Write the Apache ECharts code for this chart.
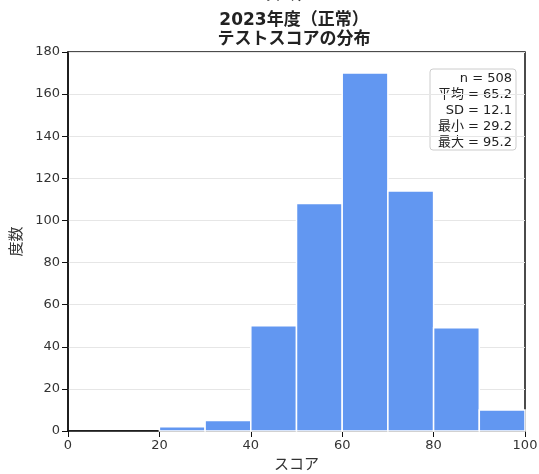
<!DOCTYPE html>
<html><head><meta charset="utf-8">
<script src="https://cdn.jsdelivr.net/npm/echarts@6/dist/echarts.min.js"></script>
<style>html,body{margin:0;padding:0;background:#fff}#c{width:539px;height:474px}</style>
</head><body><div id="c"></div>
<script>
const binStarts = [20, 30, 40, 50, 60, 70, 80, 90];
const binWidth = 10;
const counts = [2, 5, 50, 108, 170, 114, 49, 10];
const statsLines = ['n = 508', '平均 = 65.2', 'SD = 12.1', '最小 = 29.2', '最大 = 95.2'];
const titleLines = ['2023年度（正常）', 'テストスコアの分布'];

const FONT = '"DejaVu Sans", "Noto Sans CJK JP", sans-serif';
const chart = echarts.init(document.getElementById('c'));
const data = binStarts.map((s, i) => [s, s + binWidth, counts[i]]);
chart.setOption({
  animation: false,
  textStyle: { fontFamily: FONT },
  title: {
    text: titleLines.join('\n'),
    left: 289, top: 6, textAlign: 'center',
    textStyle: { fontSize: 17, fontWeight: 'bold', color: '#222', lineHeight: 19, fontFamily: FONT }
  },
  graphic: [
    { type: 'text', x: 288, y: -11, style: { text: 'スコア', font: '15px ' + FONT, fill: '#333', align: 'center' } },
    { type: 'group', x: 430, y: 69, children: [
      { type: 'rect', shape: { x: 0, y: 0, width: 86, height: 81, r: 3 }, style: { fill: '#fff', stroke: '#ccc', lineWidth: 1 } },
      { type: 'text', x: 82, y: 2, style: { text: statsLines.join('\n'), align: 'right', font: '13px ' + FONT, lineHeight: 16, fill: '#222' } }
    ]}
  ],
  grid: { left: 68, right: 14, top: 52, bottom: 43, show: true, borderColor: '#111', borderWidth: 1.5, outerBoundsMode: 'none', containLabel: false },
  xAxis: {
    type: 'value', min: 0, max: 100, interval: 20,
    name: 'スコア', nameLocation: 'middle', nameGap: 27,
    nameTextStyle: { fontSize: 15, color: '#333' },
    axisLine: { show: true, onZero: false, lineStyle: { color: '#111', width: 1.5 } },
    axisTick: { show: true, length: 6, lineStyle: { color: '#111' } },
    axisLabel: { fontSize: 13, color: '#333', margin: 8 },
    splitLine: { show: false }
  },
  yAxis: {
    type: 'value', min: 0, max: 180, interval: 20,
    name: '度数', nameLocation: 'middle', nameGap: 42,
    nameTextStyle: { fontSize: 15, color: '#333' },
    axisLine: { show: true, lineStyle: { color: '#111', width: 1.5 } },
    axisTick: { show: true, length: 6, lineStyle: { color: '#111' } },
    axisLabel: { fontSize: 13, color: '#333', margin: 8 },
    splitLine: { show: true, lineStyle: { color: '#e6e6e6', width: 1 } }
  },
  series: [{
    type: 'custom',
    data: data,
    encode: { x: [0, 1], y: 2 },
    renderItem: function (params, api) {
      const p0 = api.coord([api.value(0), 0]);
      const p1 = api.coord([api.value(1), api.value(2)]);
      return {
        type: 'rect',
        shape: { x: p0[0], y: p1[1], width: p1[0] - p0[0], height: p0[1] - p1[1] },
        style: { fill: '#6297f1', stroke: '#fff', lineWidth: 1.5 }
      };
    }
  }]
});
</script></body></html>
